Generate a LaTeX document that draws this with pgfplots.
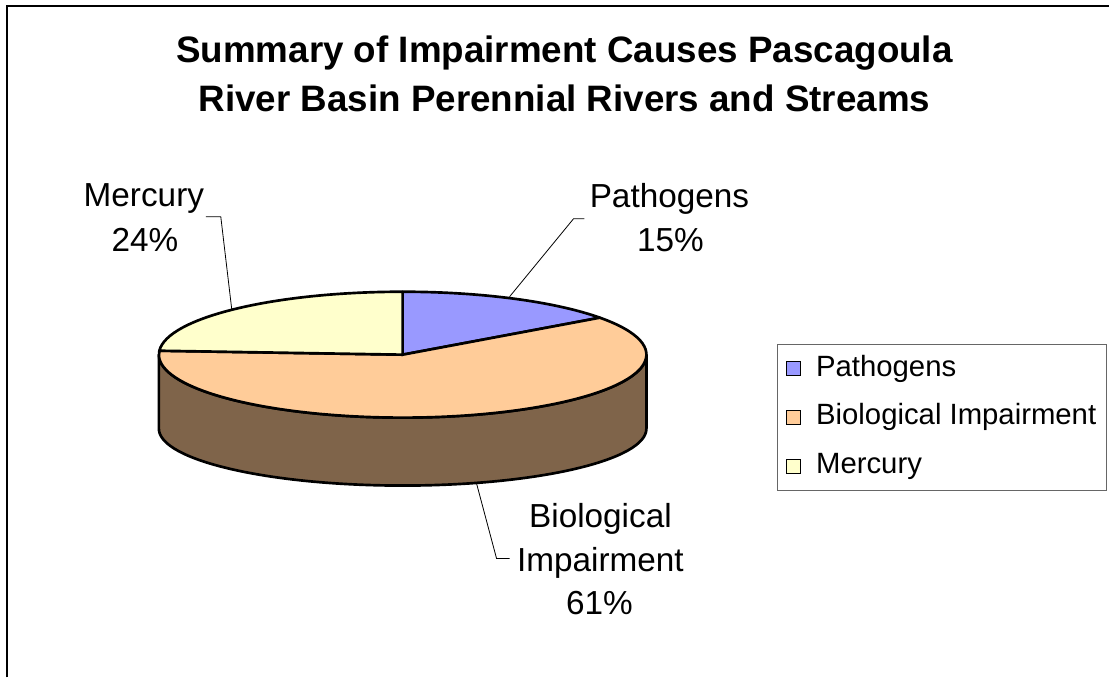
\documentclass[border=0pt]{standalone}
\usepackage{fontspec}
\setmainfont{Liberation Sans}
\usepackage{pgfplots}
\usepackage{pgfplotstable}
\pgfplotsset{compat=1.18}
\definecolor{pathc}{RGB}{153,153,255}
\definecolor{bioc}{RGB}{255,204,153}
\definecolor{merc}{RGB}{255,255,204}
\definecolor{sidec}{RGB}{127,100,74}
\pgfplotstableread[col sep=comma]{
name,value
Pathogens,15
Biological Impairment,61
Mercury,24
}\piedata
\pgfplotstablegetelem{0}{value}\of\piedata\edef\vA{\pgfplotsretval}%
\pgfplotstablegetelem{1}{value}\of\piedata\edef\vB{\pgfplotsretval}%
\pgfplotstablegetelem{2}{value}\of\piedata\edef\vC{\pgfplotsretval}%
\pgfmathsetmacro\aA{90}%
\pgfmathsetmacro\aB{\aA-3.6*\vA}%
\pgfmathsetmacro\aC{\aB-3.6*\vB}%
\pgfmathsetmacro\aD{\aC-3.6*\vC}%
\begin{document}%
\begin{tikzpicture}
\begin{axis}[
  scale only axis, width=832.5pt, height=508.5pt,
  xmin=0, xmax=1110, ymin=0, ymax=678, y dir=reverse,
  hide axis, clip=false,
  legend cell align=left,
  legend image code/.code={\filldraw[#1] (0pt,-5.25pt) rectangle (10.5pt,5.25pt);},
  legend style={at={(axis cs:778,344)}, anchor=north west, draw=black!60,
    line width=0.75pt, inner xsep=6pt, inner ysep=6pt, row sep=11.6pt,
    font=\fontsize{22}{26}\selectfont,
    nodes={inner sep=2pt, text height=16pt, text depth=5pt},
    /tikz/every odd column/.append style={column sep=9.5pt}},
]
\path (axis cs:0,0) rectangle (axis cs:1110,678);
% frame
\draw[line width=1.5pt] (axis cs:7,678) -- (axis cs:7,6) -- (axis cs:1110,6);
\addlegendimage{fill=pathc, draw=black, line width=0.75pt}
\addlegendentry{Pathogens}
\addlegendimage{fill=bioc, draw=black, line width=0.75pt}
\addlegendentry{Biological Impairment}
\addlegendimage{fill=merc, draw=black, line width=0.75pt}
\addlegendentry{Mercury}
\coordinate (C) at (axis cs:403,355);
\coordinate (B) at (axis cs:403,429);
% side
\filldraw[fill=sidec, draw=black, line width=2pt, line join=round]
  ([shift={(180:183pt and 47.25pt)}]C) arc[start angle=180, end angle=360, x radius=183pt, y radius=47.25pt]
  -- ([shift={(0:183pt and 42.75pt)}]B) arc[start angle=0, end angle=-180, x radius=183pt, y radius=42.75pt] -- cycle;
% top wedges
\filldraw[fill=pathc, draw=black, line width=2pt, line join=round]
  (C) -- ([shift={(\aA:183pt and 47.25pt)}]C) arc[start angle=\aA, end angle=\aB, x radius=183pt, y radius=47.25pt] -- cycle;
\filldraw[fill=bioc, draw=black, line width=2pt, line join=round]
  (C) -- ([shift={(\aB:183pt and 47.25pt)}]C) arc[start angle=\aB, end angle=\aC, x radius=183pt, y radius=47.25pt] -- cycle;
\filldraw[fill=merc, draw=black, line width=2pt, line join=round]
  (C) -- ([shift={(\aC:183pt and 47.25pt)}]C) arc[start angle=\aC, end angle=\aD, x radius=183pt, y radius=47.25pt] -- cycle;
% leader lines
\draw[line width=0.6pt] (axis cs:510,297) -- (axis cs:574,219) -- (axis cs:585,219);
\draw[line width=0.6pt] (axis cs:232,310) -- (axis cs:221,217) -- (axis cs:206,217);
\draw[line width=0.6pt] (axis cs:477,484) -- (axis cs:497,559) -- (axis cs:510,559);
% title
\node[anchor=base, font=\fontsize{27.6}{32}\selectfont\bfseries] at (axis cs:565,63) {Summary of Impairment Causes Pascagoula};
\node[anchor=base, font=\fontsize{27.6}{32}\selectfont\bfseries] at (axis cs:565,112) {River Basin Perennial Rivers and Streams};
% labels
\node[anchor=base, font=\fontsize{25}{30}\selectfont] at (axis cs:670,208) {Pathogens};
\node[anchor=base, font=\fontsize{25}{30}\selectfont] at (axis cs:671,252) {\vA\%};
\node[anchor=base, font=\fontsize{25}{30}\selectfont] at (axis cs:144,207) {Mercury};
\node[anchor=base, font=\fontsize{25}{30}\selectfont] at (axis cs:145,252) {\vC\%};
\node[anchor=base, font=\fontsize{25}{30}\selectfont] at (axis cs:601,528) {Biological};
\node[anchor=base, font=\fontsize{25}{30}\selectfont] at (axis cs:601,572) {Impairment};
\node[anchor=base, font=\fontsize{25}{30}\selectfont] at (axis cs:600,615) {\vB\%};
\end{axis}
\end{tikzpicture}%
\end{document}
